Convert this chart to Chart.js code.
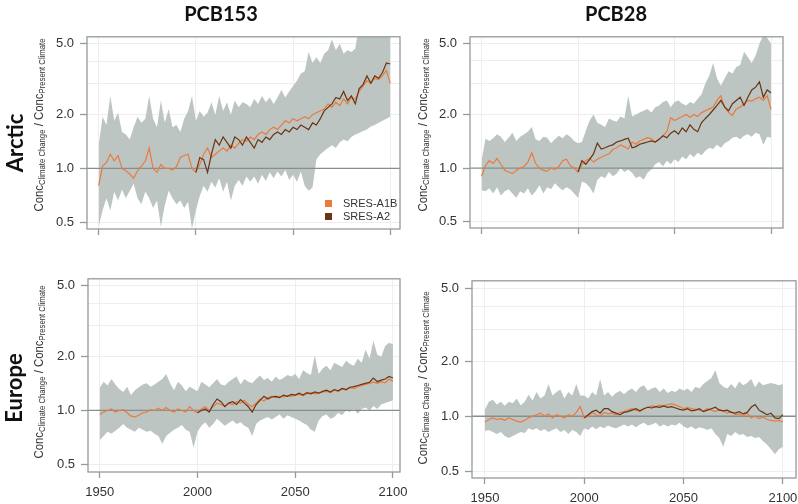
<!DOCTYPE html>
<html>
<head>
<meta charset="utf-8">
<script src="https://cdn.jsdelivr.net/npm/chart.js@4.4.1/dist/chart.umd.min.js"></script>
<style>
  body { margin: 0; background: #fff; }
  #wrap { position: relative; width: 798px; height: 504px; overflow: hidden; font-family: "Liberation Sans", Arial, sans-serif; color: #333; }
  canvas { position: absolute; }
  .head { position: absolute; transform: translate(-50%, -50%); font-family: Lato, "Open Sans", sans-serif; font-weight: bold; font-size: 20px; color: #111; white-space: nowrap; }
  .row { position: absolute; transform: translate(-50%, -50%) rotate(-90deg); font-family: Lato, "Open Sans", sans-serif; font-weight: bold; font-size: 22px; color: #111; white-space: nowrap; }
  .ytitle { position: absolute; transform: translate(-50%, -50%) rotate(-90deg) scale(0.91, 1); font-size: 12.5px; color: #333; white-space: nowrap; }
  .ytitle sub { font-size: 8.5px; vertical-align: -2px; }
  .leg { position: absolute; font-size: 11px; color: #333; white-space: nowrap; line-height: 13px; }
  .leg i { display: inline-block; width: 7px; height: 7px; margin-right: 11px; vertical-align: 0px; }
</style>
</head>
<body>
<div id="wrap"></div>
<script>
// years (every second year), A2 scenario runs from 2000 on
const years = [1950,1952,1954,1956,1958,1960,1962,1964,1966,1968,1970,1972,1974,1976,1978,1980,1982,1984,1986,1988,
  1990,1992,1994,1996,1998,2000,2002,2004,2006,2008,2010,2012,2014,2016,2018,2020,2022,2024,2026,2028,
  2030,2032,2034,2036,2038,2040,2042,2044,2046,2048,2050,2052,2054,2056,2058,2060,2062,2064,2066,2068,
  2070,2072,2074,2076,2078,2080,2082,2084,2086,2088,2090,2092,2094,2096,2098,2100];
const yearsA2 = years.slice(25);

const xTicks = [1950, 2000, 2050, 2100];
const yTicks = [0.5, 1, 2, 3, 4, 5];
const yLabeled = [0.5, 1, 2, 5];

const columns = ['PCB153', 'PCB28'];
const regions = ['Arctic', 'Europe'];
const scenarios = ['SRES-A1B', 'SRES-A2'];

// Arctic PCB153
const arctic153Upper = [1.35,1.95,1.75,2.55,1.85,2.05,1.6,1.55,1.45,1.7,
  1.95,1.8,1.9,2.55,1.9,1.7,2.4,1.8,2.15,1.7,
  1.75,1.6,1.9,2.1,2.55,1.85,2.1,1.95,2.05,2.35,
  2.0,2.55,2.1,2.35,2.0,2.4,2.2,2.35,2.3,2.2,
  2.45,2.3,2.55,2.35,2.5,2.3,2.5,2.75,2.5,2.7,
  2.9,3.1,3.4,3.5,4.5,3.9,4.2,3.9,4.4,4.6,
  5.3,4.6,5.0,4.4,4.6,4.5,4.7,6.5,7,7,
  7,7,7,7,7,7];
const arctic153Lower = [0.47,0.58,0.68,0.58,0.74,0.66,0.76,0.68,0.75,0.82,
  0.68,0.63,0.74,0.68,0.6,0.66,0.47,0.62,0.75,0.68,
  0.63,0.66,0.6,0.65,0.46,0.58,0.7,0.8,0.74,0.84,
  0.78,0.88,0.74,0.84,0.66,0.8,0.86,0.8,0.9,0.84,
  0.9,0.82,0.92,0.85,0.95,0.88,0.96,0.9,0.98,0.86,
  0.92,0.84,0.96,0.8,0.75,0.78,1.12,1.2,1.25,1.3,
  1.35,1.3,1.4,1.45,1.42,1.5,1.55,1.58,1.62,1.65,
  1.72,1.75,1.8,1.85,1.9,1.95];
const arctic153A1B = [0.8,1.03,1.08,1.2,1.1,1.18,1.0,0.97,0.93,0.88,
  0.97,1.03,1.1,1.3,1.0,0.95,1.05,1.0,1.0,0.98,
  1.02,1.15,1.18,1.2,1.0,0.95,1.05,1.2,1.3,1.15,
  1.2,1.25,1.3,1.25,1.35,1.3,1.38,1.45,1.42,1.5,
  1.45,1.55,1.6,1.55,1.65,1.7,1.65,1.75,1.85,1.8,
  1.9,1.85,1.9,1.95,1.9,2.0,2.05,2.1,2.15,2.3,
  2.2,2.35,2.25,2.45,2.3,2.5,2.45,2.7,2.9,3.1,
  3.0,3.2,3.15,3.3,3.55,3.0];
const arctic153A2 = [0.95,1.15,1.12,0.95,1.2,1.45,1.35,1.5,1.4,1.3,
  1.5,1.45,1.35,1.5,1.4,1.3,1.45,1.4,1.5,1.45,
  1.55,1.6,1.55,1.65,1.6,1.7,1.65,1.75,1.7,1.65,
  1.8,1.75,1.9,2.1,2.2,2.3,2.5,2.45,2.7,2.4,
  2.55,2.3,2.8,2.95,3.3,3.0,3.3,3.2,3.45,3.9,
  3.85];

// Arctic PCB28
const arctic28Upper = [1.1,1.46,1.42,1.47,1.55,1.5,1.4,1.48,1.58,1.42,
  1.5,1.55,1.6,1.7,1.45,1.42,1.5,1.48,1.38,1.45,
  1.52,1.47,1.55,1.5,1.42,1.38,1.4,1.62,1.85,2.0,
  1.8,1.75,1.7,1.9,1.85,1.82,1.95,1.9,2.55,1.95,
  2.0,2.05,2.1,2.15,2.05,2.2,2.25,2.35,2.4,2.2,
  2.35,2.4,2.3,2.25,2.35,2.3,2.45,2.6,3.0,3.3,
  3.9,3.2,2.9,3.2,3.5,3.4,3.7,3.8,4.5,4.2,
  3.9,4.3,5.0,5.6,5.4,5.0];
const arctic28Lower = [0.75,0.74,0.77,0.72,0.78,0.7,0.74,0.76,0.72,0.68,
  0.74,0.72,0.77,0.7,0.74,0.8,0.72,0.78,0.76,0.82,
  0.78,0.75,0.78,0.76,0.72,0.68,0.84,0.82,0.78,0.72,
  0.86,0.9,0.88,0.95,0.9,0.93,1.0,0.95,0.98,0.94,
  0.88,0.9,0.86,0.94,0.98,1.05,1.08,1.02,1.1,1.05,
  1.12,1.08,1.16,1.12,1.2,1.15,1.22,1.18,1.25,1.3,
  1.28,1.35,1.3,1.38,1.42,1.48,1.5,1.45,1.52,1.55,
  1.5,1.58,1.55,1.35,1.5,1.48];
const arctic28A1B = [0.9,1.03,1.1,1.06,1.13,1.05,0.97,0.95,0.93,0.97,
  1.0,1.02,1.08,1.22,1.06,1.0,0.97,0.96,1.0,0.98,
  1.02,1.1,1.12,1.03,1.0,0.95,1.05,1.1,1.13,1.08,
  1.12,1.15,1.18,1.2,1.27,1.3,1.35,1.32,1.28,1.4,
  1.36,1.42,1.45,1.48,1.46,1.4,1.45,1.52,1.6,1.92,
  1.85,1.9,1.95,2.0,1.93,2.0,1.95,2.05,2.1,2.15,
  2.2,2.4,2.55,2.2,2.05,1.98,2.15,2.2,2.3,2.4,
  2.38,2.45,2.5,2.4,2.55,2.14];
const arctic28A2 = [0.95,1.1,1.05,1.12,1.2,1.38,1.28,1.3,1.33,1.35,
  1.4,1.42,1.45,1.47,1.3,1.32,1.36,1.38,1.4,1.42,
  1.4,1.45,1.52,1.48,1.57,1.62,1.55,1.68,1.6,1.75,
  1.65,1.6,1.8,1.9,2.0,2.12,2.25,2.4,2.2,2.1,
  2.3,2.4,2.5,2.25,2.5,2.75,2.85,3.05,2.5,2.75,
  2.65];

// Europe PCB153
const europe153Upper = [1.34,1.45,1.38,1.5,1.4,1.32,1.27,1.36,1.22,1.3,
  1.35,1.4,1.42,1.36,1.4,1.45,1.5,1.6,1.42,1.3,
  1.45,1.38,1.28,1.36,1.32,1.28,1.45,1.4,1.35,1.42,
  1.5,1.4,1.38,1.45,1.5,1.55,1.4,1.5,1.45,1.42,
  1.5,1.57,1.48,1.52,1.45,1.55,1.48,1.52,1.58,1.55,
  1.6,1.5,1.68,1.62,1.58,2.03,1.6,1.72,1.78,1.68,
  1.85,1.8,1.75,1.9,1.82,1.78,1.95,1.85,2.2,1.95,
  2.46,2.05,2.0,2.3,2.4,2.35];
const europe153Lower = [0.68,0.72,0.76,0.74,0.77,0.8,0.84,0.8,0.78,0.76,
  0.8,0.78,0.76,0.77,0.74,0.72,0.65,0.72,0.75,0.78,
  0.8,0.83,0.78,0.76,0.62,0.76,0.82,0.86,0.8,0.84,
  0.9,0.86,0.82,0.85,0.88,0.84,0.86,0.82,0.8,0.72,
  0.84,0.88,0.9,0.92,0.89,0.92,0.95,0.9,0.94,0.92,
  0.9,0.88,0.85,0.83,0.78,0.76,0.88,0.93,0.95,0.9,
  0.92,0.97,0.94,1.0,0.98,1.02,0.96,1.02,1.04,1.0,
  1.06,1.02,1.08,1.1,1.12,1.14];
const europe153A1B = [0.95,0.98,1.0,1.02,0.98,1.0,1.01,0.97,0.93,0.92,
  0.94,0.97,0.98,1.01,1.0,1.03,1.0,1.04,1.0,0.98,
  1.02,1.0,0.98,1.05,1.0,0.97,1.02,1.05,1.0,1.05,
  1.1,1.08,1.06,1.1,1.08,1.12,1.1,1.14,1.08,1.05,
  1.1,1.16,1.13,1.18,1.2,1.18,1.2,1.19,1.21,1.2,
  1.22,1.23,1.21,1.24,1.26,1.24,1.25,1.27,1.28,1.26,
  1.3,1.28,1.32,1.3,1.34,1.33,1.36,1.38,1.4,1.42,
  1.44,1.42,1.45,1.43,1.5,1.46];
const europe153A2 = [0.97,1.0,1.02,0.98,1.08,1.16,1.12,1.05,1.1,1.12,
  1.08,1.15,1.1,1.05,0.98,1.08,1.14,1.2,1.16,1.19,
  1.2,1.18,1.22,1.2,1.23,1.22,1.25,1.22,1.26,1.24,
  1.27,1.25,1.28,1.3,1.27,1.31,1.29,1.33,1.31,1.35,
  1.36,1.38,1.4,1.42,1.44,1.52,1.45,1.48,1.5,1.55,
  1.52];

// Europe PCB28
const europe28Upper = [1.09,1.2,1.23,1.16,1.2,1.14,1.2,1.18,1.25,1.15,
  1.2,1.31,1.22,1.36,1.25,1.3,1.5,1.3,1.36,1.4,
  1.25,1.36,1.3,1.5,1.3,1.3,1.25,1.36,1.3,1.6,
  1.3,1.36,1.28,1.34,1.38,1.32,1.38,1.42,1.36,1.44,
  1.48,1.38,1.42,1.44,1.36,1.42,1.34,1.38,1.36,1.42,
  1.38,1.42,1.36,1.45,1.42,1.5,1.56,1.62,1.79,1.52,
  1.45,1.42,1.5,1.42,1.55,1.48,1.52,1.6,1.44,1.55,
  1.48,1.5,1.52,1.5,1.48,1.5];
const europe28Lower = [0.83,0.84,0.82,0.8,0.82,0.78,0.76,0.78,0.8,0.82,
  0.81,0.86,0.84,0.86,0.83,0.85,0.82,0.84,0.86,0.82,
  0.84,0.8,0.84,0.82,0.78,0.86,0.84,0.88,0.85,0.88,
  0.86,0.89,0.87,0.86,0.88,0.9,0.88,0.9,0.87,0.9,
  0.92,0.89,0.9,0.92,0.88,0.9,0.88,0.9,0.89,0.92,
  0.88,0.86,0.88,0.85,0.87,0.86,0.84,0.86,0.8,0.76,
  0.68,0.8,0.78,0.82,0.79,0.8,0.77,0.78,0.76,0.77,
  0.73,0.7,0.66,0.62,0.66,0.68];
const europe28A1B = [0.93,0.96,0.98,0.96,0.97,0.95,0.98,0.96,0.94,0.93,
  0.95,0.98,1.0,1.02,1.04,1.0,1.03,0.98,1.02,1.0,
  0.98,1.02,1.0,1.05,1.13,0.98,1.0,1.05,1.02,1.0,
  1.05,1.03,1.04,1.02,1.05,1.06,1.08,1.1,1.08,1.06,
  1.1,1.12,1.14,1.13,1.15,1.14,1.16,1.17,1.15,1.13,
  1.1,1.12,1.1,1.09,1.08,1.07,1.1,1.08,1.06,1.09,
  1.07,1.04,1.06,1.02,1.03,1.0,1.04,0.98,1.0,0.97,
  0.99,0.96,0.95,0.94,0.95,0.93];
const europe28A2 = [0.98,1.02,1.06,1.08,1.04,1.1,1.1,1.06,1.04,1.02,
  1.05,1.06,1.08,1.1,1.07,1.1,1.12,1.11,1.13,1.12,
  1.14,1.12,1.13,1.11,1.09,1.08,1.1,1.07,1.08,1.1,
  1.06,1.08,1.1,1.12,1.08,1.07,1.08,1.05,1.04,1.06,
  1.03,1.05,1.12,1.16,1.08,1.05,1.02,1.04,0.98,0.97,
  1.02];

// styling
const colA1B = '#ea7a3e';
const colA2 = '#6b3414';
const colBand = '#bcc5c2';
const colAxis = '#939c9a';
const colRef = '#85908e';
const tickFont = { family: '"Liberation Sans", Arial, sans-serif', size: 13 };

// layout of the four panels: plot box [left, top, right, bottom]
const panels = [
  { box: [87, 33, 400, 229], xMin: 1944, xMax: 2105, yMin: 0.457, yMax: 5.47, xLabels: false,
    upper: arctic153Upper, lower: arctic153Lower, a1b: arctic153A1B, a2: arctic153A2 },
  { box: [470, 33, 783, 228], xMin: 1944, xMax: 2106.2, yMin: 0.46, yMax: 5.47, xLabels: false,
    upper: arctic28Upper, lower: arctic28Lower, a1b: arctic28A1B, a2: arctic28A2 },
  { box: [88, 275, 400, 472], xMin: 1944, xMax: 2103.6, yMin: 0.452, yMax: 5.47, xLabels: true,
    upper: europe153Upper, lower: europe153Lower, a1b: europe153A1B, a2: europe153A2 },
  { box: [472, 277, 796, 478], xMin: 1943.5, xMax: 2106.6, yMin: 0.459, yMax: 5.52, xLabels: true,
    upper: europe28Upper, lower: europe28Lower, a1b: europe28A1B, a2: europe28A2 },
];

const wrap = document.getElementById('wrap');

const pts = (xs, ys) => xs.map((x, i) => ({ x: x, y: ys[i] }));

const boxPlugin = {
  id: 'box',
  afterDatasetsDraw(chart) {
    const a = chart.chartArea;
    const ctx = chart.ctx;
    ctx.save();
    ctx.strokeStyle = colAxis;
    ctx.lineWidth = 1.3;
    ctx.strokeRect(a.left, a.top, a.right - a.left, a.bottom - a.top);
    ctx.restore();
  }
};

function makeChart(p) {
  const [l, t, r, b] = p.box;
  const W = r - l + 80, H = b - t + 45;
  const cv = document.createElement('canvas');
  cv.width = W; cv.height = H;
  cv.style.left = (l - 60) + 'px';
  cv.style.top = (t - 10) + 'px';
  cv.style.width = W + 'px';
  cv.style.height = H + 'px';
  wrap.appendChild(cv);

  const clear = 'rgba(0,0,0,0)';
  new Chart(cv, {
    type: 'line',
    data: {
      datasets: [
        { label: scenarios[1], data: pts(yearsA2, p.a2), borderColor: colA2, borderWidth: 1.2, pointRadius: 0, fill: false, order: 0 },
        { label: scenarios[0], data: pts(years, p.a1b), borderColor: colA1B, borderWidth: 1.2, pointRadius: 0, fill: false, order: 1 },
        { label: 'ref', data: [{ x: p.xMin, y: 1 }, { x: p.xMax, y: 1 }], borderColor: colRef, borderWidth: 1.3, pointRadius: 0, fill: false, order: 2 },
        { label: 'upper', data: pts(years, p.upper), borderColor: clear, borderWidth: 0, backgroundColor: colBand, pointRadius: 0, fill: '+1', order: 3 },
        { label: 'lower', data: pts(years, p.lower), borderColor: clear, borderWidth: 0, pointRadius: 0, fill: false, order: 4 },
      ]
    },
    options: {
      responsive: false,
      animation: false,
      events: [],
      layout: { padding: { left: 0, right: 20, top: 10, bottom: 0 } },
      elements: { line: { tension: 0 } },
      plugins: { legend: { display: false }, tooltip: { enabled: false } },
      scales: {
        x: {
          type: 'linear', min: p.xMin, max: p.xMax,
          afterBuildTicks: s => { s.ticks = xTicks.map(v => ({ value: v })); },
          afterFit: s => { s.height = 35; },
          ticks: { autoSkip: false, maxRotation: 0, padding: 7, font: tickFont, color: '#333',
                   callback: v => p.xLabels ? String(v) : '' },
          grid: { color: '#eeeeee', lineWidth: 1, tickLength: 6, tickColor: colAxis, tickWidth: 1.3 },
          border: { display: false }
        },
        y: {
          type: 'logarithmic', min: p.yMin, max: p.yMax,
          afterBuildTicks: s => { s.ticks = yTicks.map(v => ({ value: v })); },
          afterFit: s => { s.width = 60; },
          ticks: { autoSkip: false, padding: 6, font: tickFont, color: '#333',
                   callback: v => yLabeled.includes(v) ? v.toFixed(1) : '' },
          grid: {
            color: c => c.tick && c.tick.value === 1 ? clear : '#eeeeee',
            lineWidth: 1, tickLength: 7, tickWidth: 1.3,
            tickColor: c => c.tick && yLabeled.includes(c.tick.value) ? colAxis : clear
          },
          border: { display: false }
        }
      }
    },
    plugins: [boxPlugin]
  });
}

panels.forEach(makeChart);

// text around the panels
function addDiv(cls, html, left, top) {
  const d = document.createElement('div');
  d.className = cls;
  d.innerHTML = html;
  d.style.left = left + 'px';
  d.style.top = top + 'px';
  wrap.appendChild(d);
  return d;
}

addDiv('head', columns[0], 221, 13);
addDiv('head', columns[1], 616, 13);
addDiv('row', regions[0], 14, 143);
addDiv('row', regions[1], 13, 388);

const yTitle = 'Conc<sub>Climate Change</sub> / Conc<sub>Present Climate</sub>';
addDiv('ytitle', yTitle, 39, 125);
addDiv('ytitle', yTitle, 423, 125);
addDiv('ytitle', yTitle, 39, 372);
addDiv('ytitle', yTitle, 423, 378);

addDiv('leg', '<i style="background:' + colA1B + '"></i>' + scenarios[0], 325, 197);
addDiv('leg', '<i style="background:' + colA2 + '"></i>' + scenarios[1], 325, 210);
</script>
</body>
</html>
